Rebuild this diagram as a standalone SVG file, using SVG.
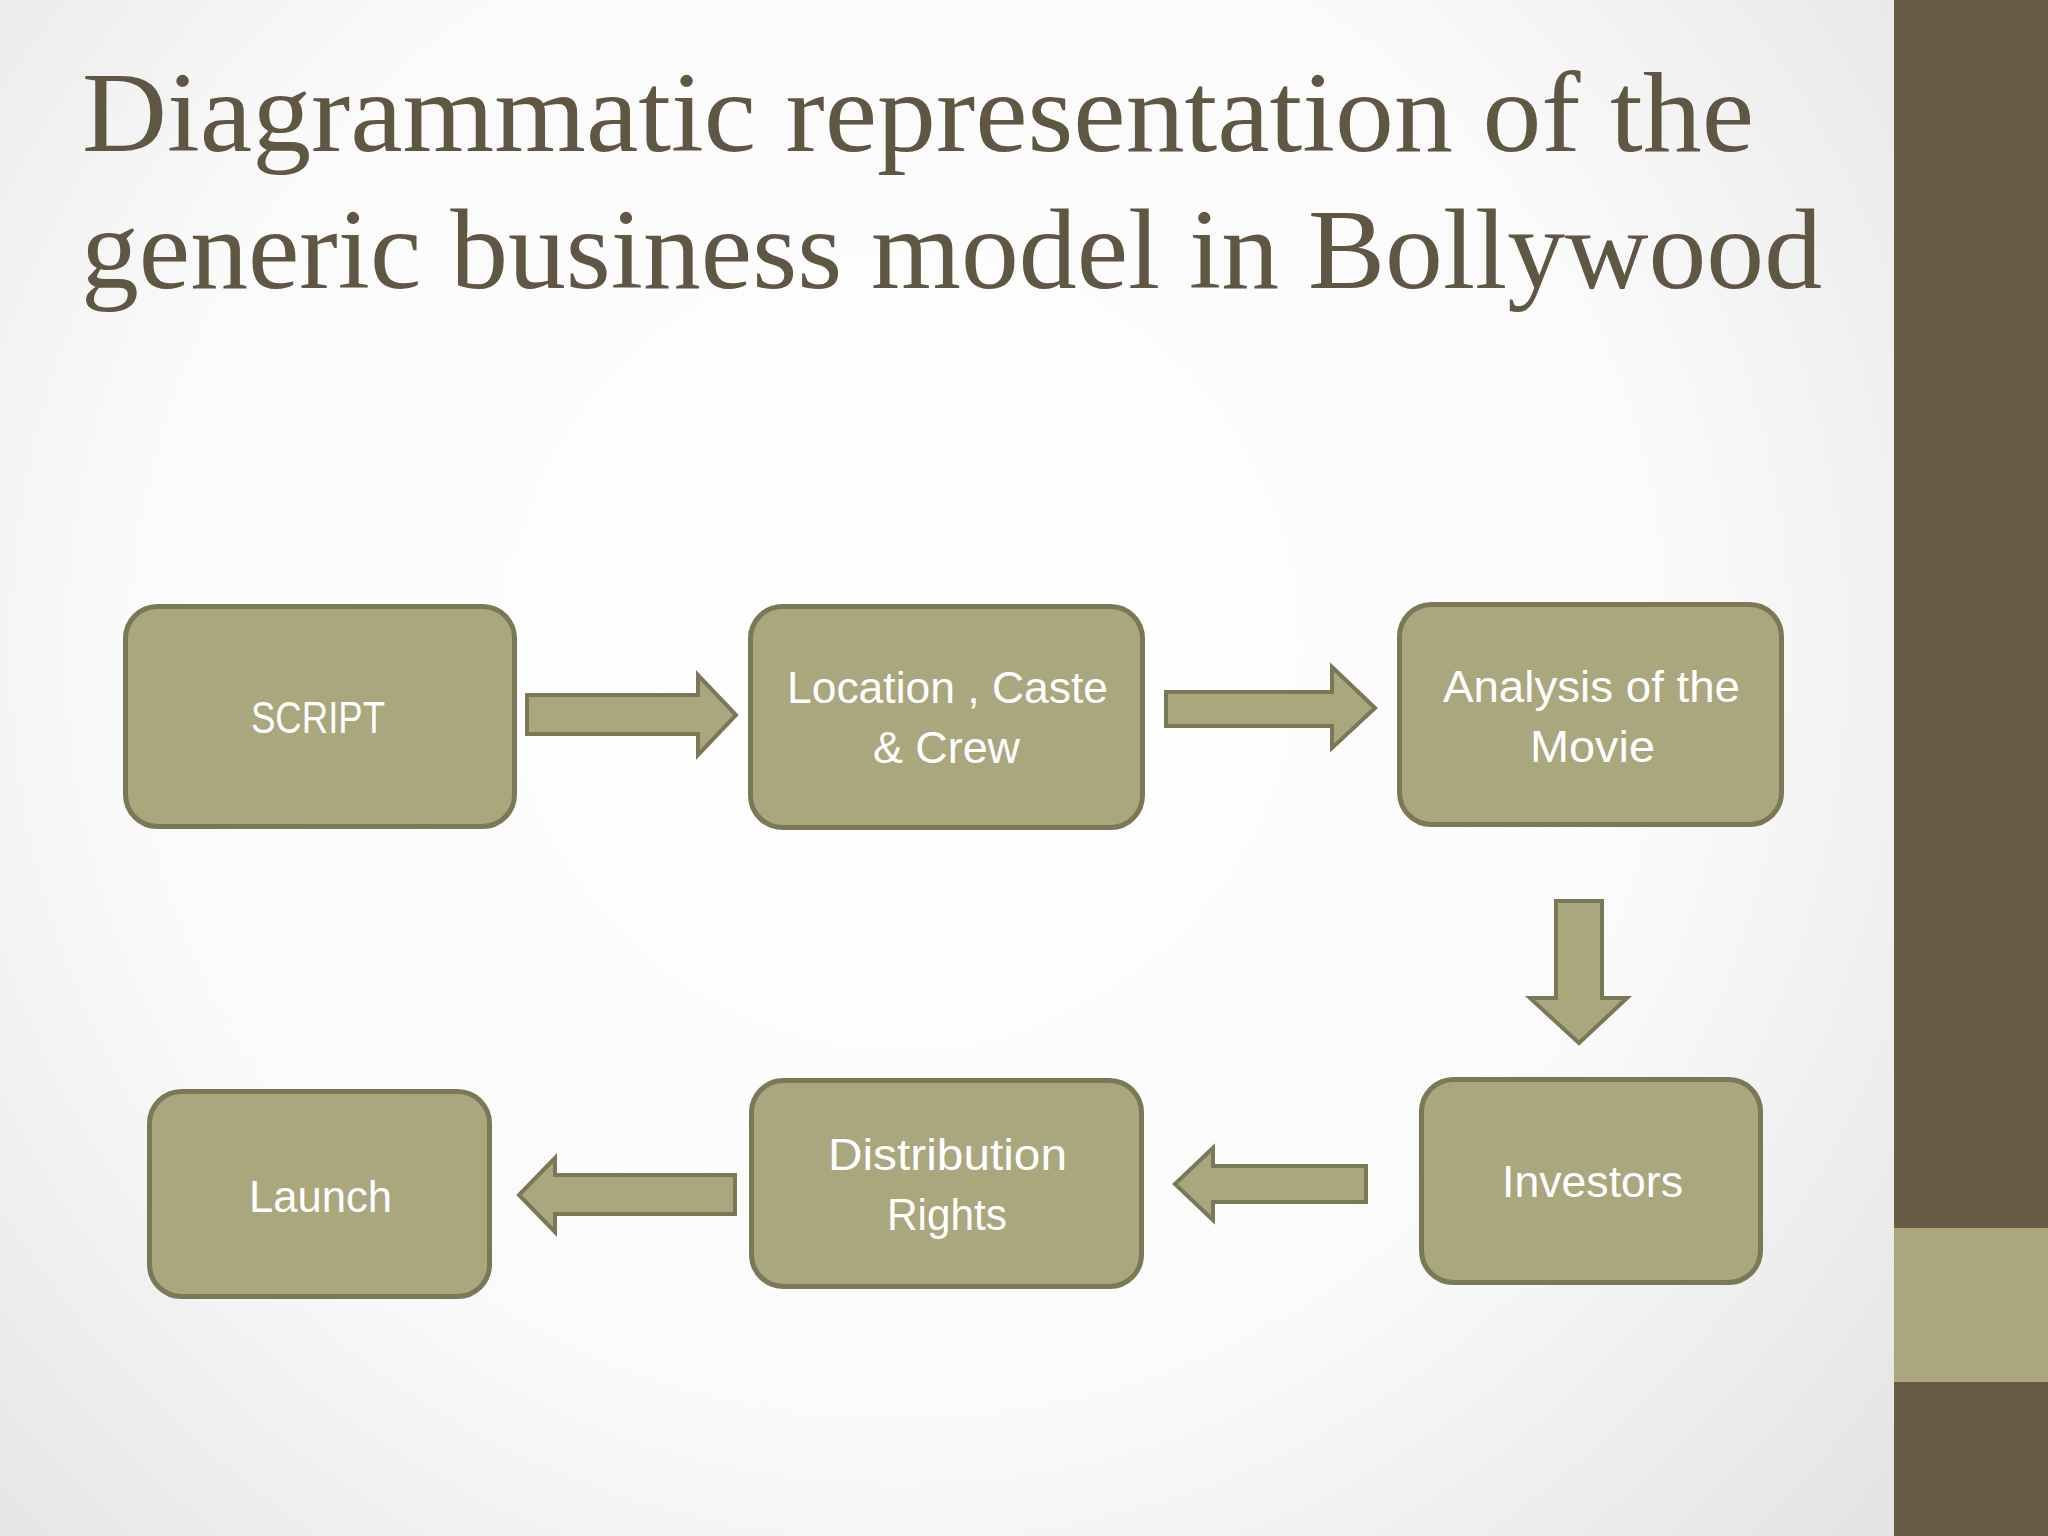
<svg xmlns="http://www.w3.org/2000/svg" width="2048" height="1536" viewBox="0 0 2048 1536">
<defs>
<radialGradient id="bg" cx="900" cy="650" r="1300" gradientUnits="userSpaceOnUse">
<stop offset="0" stop-color="#ffffff"/>
<stop offset="0.6" stop-color="#fafafa"/>
<stop offset="1" stop-color="#e4e4e4"/>
</radialGradient>
<style>
.node{fill:#aaa67e;stroke:#7a7857;stroke-width:5}
.arrow{fill:#aaa67e;stroke:#7a7857;stroke-width:4;stroke-linejoin:miter}
.lbl{font-family:"Liberation Sans","Open Sans",sans-serif;font-size:45px;fill:#ffffff;text-anchor:middle}
.title{font-family:"Liberation Serif","DejaVu Serif",serif;font-size:115px;fill:#5f5744}
</style>
</defs>
<rect x="0" y="0" width="2048" height="1536" fill="url(#bg)"/>
<rect x="1894" y="0" width="154" height="1536" fill="#675d46"/>
<rect x="1894" y="1228" width="154" height="154" fill="#aba67d"/>
<g id="title">
<text class="title" x="82" y="151" textLength="1672" lengthAdjust="spacingAndGlyphs">Diagrammatic representation of the</text>
<text class="title" x="81" y="288" textLength="1741" lengthAdjust="spacingAndGlyphs">generic business model in Bollywood</text>
</g>
<g id="connectors">
<polygon class="arrow" points="527,695 698,695 698,675 736,715 698,755 698,734 527,734"/>
<polygon class="arrow" points="1166,692 1332,692 1332,667 1375,708 1332,748 1332,726 1166,726"/>
<polygon class="arrow" points="1556,901 1602,901 1602,998 1627,998 1579,1043 1530,998 1556,998"/>
<polygon class="arrow" points="1366,1166 1213,1166 1213,1148 1175,1184 1213,1220 1213,1202 1366,1202"/>
<polygon class="arrow" points="735,1175 555,1175 555,1158 519,1195 555,1232 555,1214 735,1214"/>
</g>
<g id="node-script">
<rect class="node" x="125.5" y="606.5" width="389" height="220" rx="32"/>
<text class="lbl" x="318" y="733" textLength="134" lengthAdjust="spacingAndGlyphs">SCRIPT</text>
</g>
<g id="node-location">
<rect class="node" x="750.5" y="606.5" width="392" height="221" rx="32"/>
<text class="lbl" x="947.5" y="703" textLength="321" lengthAdjust="spacingAndGlyphs">Location , Caste</text>
<text class="lbl" x="946.5" y="763" textLength="147" lengthAdjust="spacingAndGlyphs">&amp; Crew</text>
</g>
<g id="node-analysis">
<rect class="node" x="1399.5" y="604.5" width="382" height="220" rx="32"/>
<text class="lbl" x="1591.5" y="702" textLength="297" lengthAdjust="spacingAndGlyphs">Analysis of the</text>
<text class="lbl" x="1592.5" y="762" textLength="125" lengthAdjust="spacingAndGlyphs">Movie</text>
</g>
<g id="node-investors">
<rect class="node" x="1421.5" y="1079.5" width="339" height="203" rx="32"/>
<text class="lbl" x="1592.5" y="1197" textLength="181" lengthAdjust="spacingAndGlyphs">Investors</text>
</g>
<g id="node-distribution">
<rect class="node" x="751.5" y="1080.5" width="390" height="206" rx="32"/>
<text class="lbl" x="947.5" y="1170" textLength="239" lengthAdjust="spacingAndGlyphs">Distribution</text>
<text class="lbl" x="947" y="1230" textLength="120" lengthAdjust="spacingAndGlyphs">Rights</text>
</g>
<g id="node-launch">
<rect class="node" x="149.5" y="1091.5" width="340" height="205" rx="32"/>
<text class="lbl" x="320.5" y="1212" textLength="143" lengthAdjust="spacingAndGlyphs">Launch</text>
</g>
</svg>
